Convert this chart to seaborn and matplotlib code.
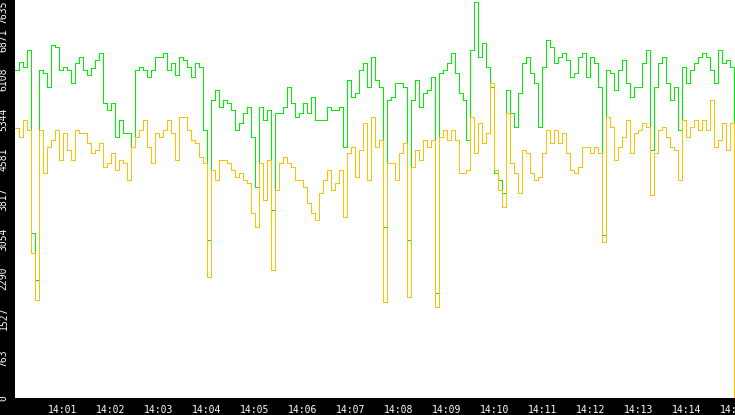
import numpy as np
import pandas as pd
import matplotlib
matplotlib.use("Agg")
import matplotlib.pyplot as plt
import matplotlib.dates as mdates
import seaborn as sns

# samples every 5 s from 14:00:00 to 14:15:00
start = "2024-01-01 14:00:00"
step = "5s"

upper = [
    6291, 6444, 6349, 6675, 3165, 2263, 6291, 6234, 5965, 6771,
    6732, 6291, 6349, 6291, 6042, 6425, 6540, 6291, 6195, 6329,
    6483, 6617, 5658, 5524, 5658, 5006, 5332, 5083, 5083, 4814,
    6291, 6349, 6291, 6157, 6291, 6540, 6540, 6617, 6291, 6425,
    6195, 6540, 6483, 6349, 6157, 6425, 6349, 5140, 3030, 5716,
    5907, 5581, 5716, 5658, 5524, 5140, 5275, 5466, 5581, 5006,
    4047, 5581, 5332, 5524, 3606, 5466, 5466, 5581, 5965, 5658,
    5390, 5466, 5658, 5466, 5773, 5332, 5332, 5332, 5581, 5524,
    5524, 5581, 4814, 6099, 5773, 5850, 6291, 6425, 5965, 6540,
    6099, 5965, 3280, 5716, 5773, 6042, 6042, 5965, 3030, 5716,
    6099, 5581, 5850, 5907, 6157, 2014, 6234, 6291, 6425, 6617,
    6234, 5850, 5716, 4948, 6675, 7595, 6540, 6809, 6349, 5965,
    4316, 4181, 3932, 5907, 5466, 5198, 5850, 6425, 6540, 6234,
    6042, 5198, 6349, 6866, 6732, 6425, 6540, 6617, 6483, 6157,
    6234, 6540, 6617, 6157, 6540, 6425, 5965, 3126, 6291, 6234,
    5907, 6291, 6483, 6042, 5773, 5965, 5965, 6425, 6675, 4757,
    5965, 6425, 6540, 6042, 5716, 5965, 5140, 6349, 6042, 6291,
    6425, 6540, 6617, 6540, 6291, 6042, 6675, 6425, 6483, 6349,
    3030,
]

lower = [
    5179, 5006, 5332, 5140, 2781, 1880, 5140, 4316, 4814, 4948,
    5140, 4565, 5083, 4757, 4565, 5140, 5083, 5083, 4891, 4699,
    4757, 4891, 4431, 4507, 4699, 4373, 4565, 4507, 4181, 4814,
    5006, 5140, 5332, 4814, 4507, 5083, 5006, 5140, 5332, 5083,
    4565, 5390, 5390, 5140, 4948, 4891, 4622, 4507, 2321, 4373,
    4181, 4565, 4565, 4507, 4373, 4239, 4316, 4181, 4124, 3548,
    3280, 4507, 3798, 4565, 2455, 3989, 4507, 4622, 4507, 4431,
    4181, 4181, 4047, 3740, 3548, 3414, 3932, 4181, 4373, 3989,
    4124, 4373, 3472, 4699, 4814, 4239, 4757, 5275, 4181, 5390,
    4814, 4948, 1841, 4507, 4507, 4181, 4699, 4891, 1937, 4431,
    4757, 4565, 4948, 4814, 4948, 1745, 5006, 5140, 4948, 5140,
    4948, 4316, 4316, 4373, 5390, 4699, 5275, 4891, 5083, 6042,
    4373, 3989, 3663, 5466, 4507, 4316, 3932, 4757, 4699, 4316,
    4181, 4239, 4699, 5140, 4891, 5140, 4891, 5083, 4699, 4373,
    4316, 4431, 4814, 4814, 4699, 4814, 4699, 2992, 5390, 5198,
    4565, 4814, 5006, 5332, 4699, 5083, 5140, 5275, 5198, 3894,
    4699, 5140, 5198, 5006, 4814, 4757, 4181, 5332, 5006, 5198,
    5332, 5140, 5332, 5140, 5716, 4814, 4948, 5275, 4757, 5275,
    0,
]

ytick_values = np.linspace(0, 7635, 11)
ytick_labels = ["0", "763", "1527", "2290", "3054", "3817",
                "4581", "5344", "6108", "6871", "7635"]

times = pd.date_range(start, periods=len(upper), freq=step)
df = pd.concat([
    pd.DataFrame({"time": times, "value": upper, "series": "upper"}),
    pd.DataFrame({"time": times, "value": lower, "series": "lower"}),
])

sns.set_style("white")
plt.rcParams["font.family"] = ["DejaVu Sans Mono", "DejaVu Sans"]

fig = plt.figure(figsize=(7.35, 4.15), dpi=100, facecolor="black")
ax = fig.add_axes([15 / 735, 17 / 415, 720 / 735, 398 / 415])
ax.set_facecolor("white")

sns.lineplot(data=df, x="time", y="value", hue="series",
             hue_order=["upper", "lower"],
             palette={"upper": "#00ee00", "lower": "#ffc000"},
             drawstyle="steps-post", linewidth=0.7, antialiased=False,
             estimator=None, legend=False, ax=ax)

ax.set_xlim(times[0], times[-1] + pd.Timedelta(seconds=1))
ax.set_ylim(0, 7635)

ax.xaxis.set_major_locator(mdates.MinuteLocator(byminute=range(1, 16)))
ax.xaxis.set_major_formatter(mdates.DateFormatter("%H:%M"))
ax.set_yticks(ytick_values)
ax.set_yticklabels(ytick_labels, rotation=90, va="center")
ax.get_yticklabels()[-1].set_va("top")

ax.tick_params(axis="both", colors="white", direction="out", length=3.5,
               width=0.72, labelsize=7)
ax.tick_params(axis="y", pad=1)
ax.tick_params(axis="x", pad=1.5)
ax.set_xlabel("")
ax.set_ylabel("")
for s in ax.spines.values():
    s.set_visible(False)

fig.savefig("out.png", dpi=100, facecolor=fig.get_facecolor())
